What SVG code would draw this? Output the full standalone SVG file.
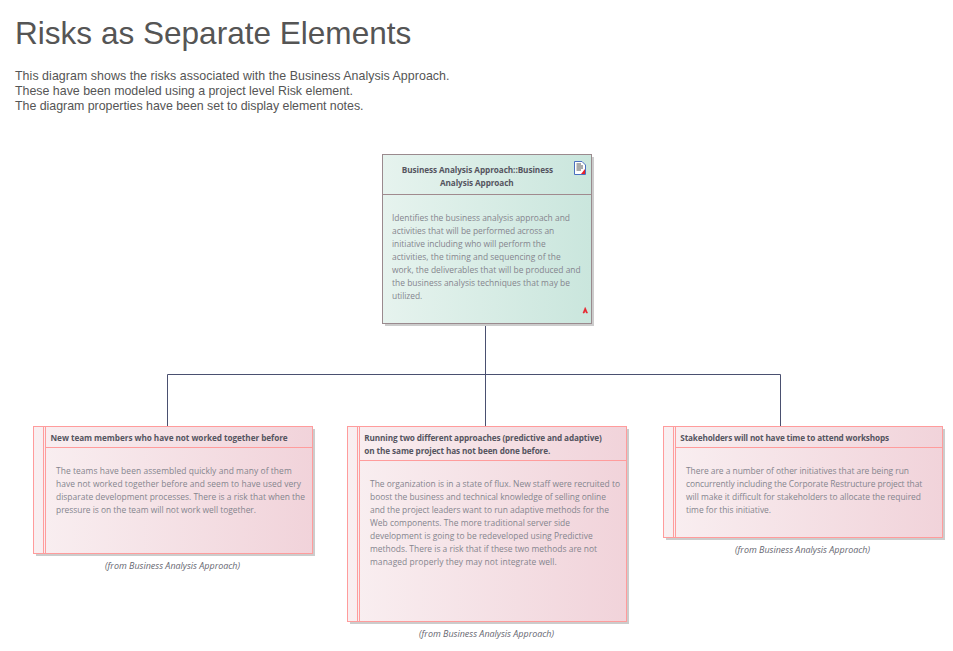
<svg xmlns="http://www.w3.org/2000/svg" width="953" height="651" viewBox="0 0 953 651">
<style>
text{font-family:"Open Sans","Noto Sans","Liberation Sans",sans-serif}
.h{font-family:"Liberation Sans",Arial,sans-serif;fill:#555555}
.d{font-family:"Liberation Sans",Arial,sans-serif;font-size:12.4px;fill:#555555}
.t{font-size:8.2px;font-weight:700;fill:#555560}
.n{font-size:8.45px;fill:#85858e}
.f{font-size:8.93px;font-style:italic;fill:#666670}
.s{fill:#cccccc}
.r{fill:url(#rg);stroke:#ff9c9c;stroke-width:1}
.ri{fill:none;stroke:#ff9c9c;stroke-width:1}
.c{fill:none;stroke:#4a5070;stroke-width:1}
</style>
<defs>
<linearGradient id="rg" x1="0" y1="0" x2="1" y2="0"><stop offset="0" stop-color="#f9eff1"/><stop offset="1" stop-color="#f1d3da"/></linearGradient>
<linearGradient id="gg" x1="0" y1="0" x2="1" y2="0"><stop offset="0" stop-color="#e6f3ee"/><stop offset="1" stop-color="#cae6dd"/></linearGradient>
</defs>
<rect width="953" height="651" fill="#ffffff"/>
<text class="h" x="15" y="44" font-size="31.55">Risks as Separate Elements</text>
<text class="d" x="15" y="80" textLength="434.5">This diagram shows the risks associated with the Business Analysis Approach.</text>
<text class="d" x="15" y="95" textLength="338">These have been modeled using a project level Risk element.</text>
<text class="d" x="15" y="110" textLength="348.5">The diagram properties have been set to display element notes.</text>
<g id="connectors">
<path class="c" d="M485.5 323V426M167.5 426V374.5H780.5V426"/>
</g>
<g id="approach">
<rect class="s" x="385" y="157" width="209" height="169"/>
<rect x="382.5" y="154.5" width="209" height="169" fill="url(#gg)" stroke="#9a8a8e"/>
<path d="M382.5 194.5H591.5" stroke="#a08a8e" fill="none"/>
<text class="t" x="401.7" y="173" textLength="151.3">Business Analysis Approach::Business</text>
<text class="t" x="440" y="186" textLength="73.7">Analysis Approach</text>
<text class="n" x="392" y="221" textLength="178">Identifies the business analysis approach and</text>
<text class="n" x="392" y="234" textLength="162.3">activities that will be performed across an</text>
<text class="n" x="392" y="247" textLength="153.7">initiative including who will perform the</text>
<text class="n" x="392" y="260" textLength="168.7">activities, the timing and sequencing of the</text>
<text class="n" x="392" y="273" textLength="188.7">work, the deliverables that will be produced and</text>
<text class="n" x="392" y="286" textLength="178">the business analysis techniques that may be</text>
<text class="n" x="392" y="299" textLength="30.3">utilized.</text>
<path d="M574.5 161.5H582L585.5 165V174.5H574.5Z" fill="#ffffff" stroke="#4a6fc0"/>
<path d="M576.5 164H581M576.5 166H583M576.5 168H583M576.5 170H581" stroke="#555555" fill="none" stroke-width="1"/>
<path d="M581 174L585 169V174Z" fill="#e8202a"/>
<path d="M583 313L585.2 307.5L587.5 313H586.3L585.2 310.5L584.2 313Z" fill="#e8202a" stroke="#e8202a" stroke-width=".6"/>
</g>
<g id="risk1">
<rect class="s" x="36" y="429" width="279" height="127"/>
<rect class="r" x="33.5" y="426.5" width="279" height="127"/>
<path class="ri" d="M43.5 426.5V553.5M45.5 426.5V553.5M45.5 447.5H312.5"/>
<text class="t" x="50.5" y="441" textLength="237.2">New team members who have not worked together before</text>
<text class="n" x="56" y="474" textLength="235.7">The teams have been assembled quickly and many of them</text>
<text class="n" x="56" y="487" textLength="245">have not worked together before and seem to have used very</text>
<text class="n" x="56" y="500" textLength="249">disparate development processes. There is a risk that when the</text>
<text class="n" x="56" y="513" textLength="200">pressure is on the team will not work well together.</text>
<text class="f" x="105" y="569" textLength="135">(from Business Analysis Approach)</text>
</g>
<g id="risk2">
<rect class="s" x="350" y="429" width="279" height="195"/>
<rect class="r" x="347.5" y="426.5" width="279" height="195"/>
<path class="ri" d="M357.5 426.5V621.5M359.5 426.5V621.5M359.5 460.5H626.5"/>
<text class="t" x="364.3" y="441" textLength="237.4">Running two different approaches (predictive and adaptive)</text>
<text class="t" x="364.3" y="454" textLength="186">on the same project has not been done before.</text>
<text class="n" x="370" y="487" textLength="250">The organization is in a state of flux. New staff were recruited to</text>
<text class="n" x="370" y="500" textLength="236">boost the business and technical knowledge of selling online</text>
<text class="n" x="370" y="513" textLength="239">and the project leaders want to run adaptive methods for the</text>
<text class="n" x="370" y="526" textLength="200">Web components. The more traditional server side</text>
<text class="n" x="370" y="539" textLength="222.7">development is going to be redeveloped using Predictive</text>
<text class="n" x="370" y="552" textLength="227">methods. There is a risk that if these two methods are not</text>
<text class="n" x="370" y="565" textLength="186.7">managed properly they may not integrate well.</text>
<text class="f" x="419" y="637" textLength="135">(from Business Analysis Approach)</text>
</g>
<g id="risk3">
<rect class="s" x="666" y="429" width="279" height="111"/>
<rect class="r" x="663.5" y="426.5" width="279" height="111"/>
<path class="ri" d="M673.5 426.5V537.5M675.5 426.5V537.5M675.5 447.5H942.5"/>
<text class="t" x="680.3" y="441" textLength="208.7">Stakeholders will not have time to attend workshops</text>
<text class="n" x="686" y="474" textLength="223">There are a number of other initiatives that are being run</text>
<text class="n" x="686" y="487" textLength="236.3">concurrently including the Corporate Restructure project that</text>
<text class="n" x="686" y="500" textLength="235">will make it difficult for stakeholders to allocate the required</text>
<text class="n" x="686" y="513" textLength="85">time for this initiative.</text>
<text class="f" x="735" y="553" textLength="135">(from Business Analysis Approach)</text>
</g>
</svg>
